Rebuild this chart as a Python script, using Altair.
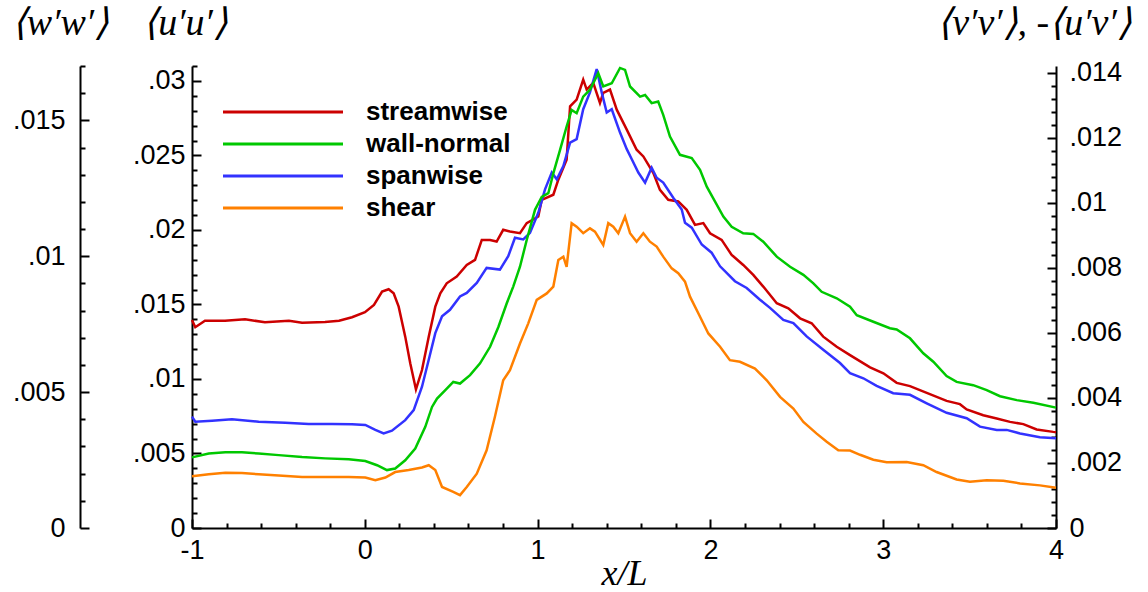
import altair as alt
import pandas as pd

# Reynolds-stress components along the wall, x/L vs. value
STREAMWISE = [  # <u'u'>
    (-1.000, 0.01396), (-0.981, 0.01347), (-0.925, 0.01391), (-0.809, 0.01391),
    (-0.693, 0.01401), (-0.578, 0.01380), (-0.439, 0.01391), (-0.363, 0.01378),
    (-0.230, 0.01382), (-0.149, 0.01391), (-0.074, 0.01414), (0.001, 0.01448),
    (0.053, 0.01497), (0.100, 0.01586), (0.138, 0.01602), (0.167, 0.01575),
    (0.196, 0.01485), (0.234, 0.01284), (0.263, 0.01105), (0.296, 0.00930),
    (0.331, 0.01060), (0.370, 0.01284), (0.408, 0.01485), (0.437, 0.01575),
    (0.474, 0.01642), (0.532, 0.01687), (0.590, 0.01765), (0.638, 0.01799),
    (0.677, 0.01933), (0.725, 0.01933), (0.763, 0.01922), (0.801, 0.02001),
    (0.840, 0.01989), (0.898, 0.01978), (0.937, 0.02046), (1.004, 0.02090),
    (1.024, 0.02202), (1.091, 0.02236), (1.120, 0.02337), (1.168, 0.02471),
    (1.188, 0.02829), (1.226, 0.02874), (1.264, 0.03009), (1.284, 0.02942),
    (1.322, 0.02987), (1.361, 0.02852), (1.380, 0.02919), (1.419, 0.02942),
    (1.458, 0.02807), (1.516, 0.02673), (1.573, 0.02538), (1.612, 0.02493),
    (1.670, 0.02382), (1.708, 0.02269), (1.756, 0.02202), (1.814, 0.02191),
    (1.863, 0.02135), (1.911, 0.02034), (1.959, 0.02046), (1.998, 0.01978),
    (2.065, 0.01933), (2.123, 0.01833), (2.190, 0.01765), (2.248, 0.01698),
    (2.306, 0.01620), (2.384, 0.01508), (2.451, 0.01474), (2.519, 0.01407),
    (2.586, 0.01374), (2.653, 0.01284), (2.731, 0.01216), (2.808, 0.01160),
    (2.924, 0.01078), (3.001, 0.01038), (3.078, 0.00974), (3.155, 0.00952),
    (3.252, 0.00907), (3.367, 0.00853), (3.444, 0.00831), (3.483, 0.00796),
    (3.579, 0.00757), (3.657, 0.00735), (3.734, 0.00712), (3.811, 0.00697),
    (3.888, 0.00661), (3.984, 0.00645), (4.000, 0.00643),
]

SPANWISE = [  # <w'w'>
    (-1.000, 0.00410), (-0.981, 0.00391), (-0.884, 0.00395), (-0.769, 0.00400),
    (-0.614, 0.00391), (-0.460, 0.00387), (-0.325, 0.00383), (-0.190, 0.00383),
    (-0.074, 0.00382), (0.003, 0.00379), (0.061, 0.00361), (0.109, 0.00348),
    (0.157, 0.00358), (0.234, 0.00397), (0.283, 0.00434), (0.331, 0.00520),
    (0.370, 0.00619), (0.408, 0.00717), (0.447, 0.00779), (0.493, 0.00803),
    (0.551, 0.00852), (0.590, 0.00865), (0.648, 0.00902), (0.705, 0.00957),
    (0.782, 0.00951), (0.830, 0.01000), (0.869, 0.01068), (0.917, 0.01062),
    (0.956, 0.01086), (1.004, 0.01160), (1.043, 0.01246), (1.082, 0.01308),
    (1.111, 0.01283), (1.149, 0.01332), (1.188, 0.01418), (1.226, 0.01431),
    (1.264, 0.01541), (1.303, 0.01603), (1.342, 0.01689), (1.371, 0.01603),
    (1.400, 0.01529), (1.429, 0.01541), (1.477, 0.01455), (1.516, 0.01394),
    (1.545, 0.01357), (1.583, 0.01308), (1.622, 0.01271), (1.660, 0.01326),
    (1.689, 0.01289), (1.727, 0.01271), (1.785, 0.01215), (1.834, 0.01172),
    (1.853, 0.01123), (1.892, 0.01105), (1.950, 0.01043), (2.007, 0.01013),
    (2.056, 0.00963), (2.094, 0.00939), (2.142, 0.00908), (2.210, 0.00883),
    (2.287, 0.00840), (2.345, 0.00810), (2.422, 0.00766), (2.480, 0.00754),
    (2.557, 0.00705), (2.653, 0.00656), (2.750, 0.00607), (2.808, 0.00570),
    (2.885, 0.00551), (2.962, 0.00523), (3.058, 0.00496), (3.155, 0.00490),
    (3.252, 0.00459), (3.367, 0.00424), (3.483, 0.00404), (3.560, 0.00373),
    (3.657, 0.00361), (3.715, 0.00361), (3.792, 0.00348), (3.907, 0.00334),
    (4.000, 0.00330),
]

WALL_NORMAL = [  # <v'v'>
    (-1.000, 0.00217), (-0.903, 0.00229), (-0.807, 0.00233), (-0.711, 0.00233),
    (-0.614, 0.00229), (-0.498, 0.00224), (-0.363, 0.00218), (-0.229, 0.00214),
    (-0.093, 0.00211), (0.003, 0.00206), (0.071, 0.00193), (0.128, 0.00178),
    (0.176, 0.00183), (0.234, 0.00208), (0.292, 0.00244), (0.350, 0.00311),
    (0.389, 0.00372), (0.418, 0.00398), (0.466, 0.00424), (0.512, 0.00449),
    (0.551, 0.00444), (0.609, 0.00470), (0.667, 0.00506), (0.725, 0.00557),
    (0.773, 0.00618), (0.821, 0.00690), (0.859, 0.00742), (0.898, 0.00803),
    (0.937, 0.00885), (0.985, 0.00978), (1.024, 0.01018), (1.062, 0.01029),
    (1.091, 0.01090), (1.130, 0.01162), (1.168, 0.01234), (1.197, 0.01285),
    (1.226, 0.01275), (1.264, 0.01326), (1.303, 0.01347), (1.351, 0.01398),
    (1.380, 0.01357), (1.429, 0.01367), (1.477, 0.01414), (1.506, 0.01408),
    (1.535, 0.01357), (1.593, 0.01326), (1.622, 0.01331), (1.660, 0.01306),
    (1.698, 0.01311), (1.727, 0.01270), (1.766, 0.01203), (1.824, 0.01147),
    (1.892, 0.01137), (1.940, 0.01101), (1.979, 0.01049), (2.027, 0.01003),
    (2.075, 0.00957), (2.123, 0.00926), (2.190, 0.00906), (2.248, 0.00904),
    (2.306, 0.00880), (2.384, 0.00834), (2.461, 0.00803), (2.538, 0.00778),
    (2.596, 0.00752), (2.644, 0.00726), (2.731, 0.00706), (2.808, 0.00680),
    (2.847, 0.00654), (2.943, 0.00634), (3.039, 0.00614), (3.078, 0.00610),
    (3.155, 0.00583), (3.232, 0.00537), (3.290, 0.00511), (3.367, 0.00467),
    (3.425, 0.00449), (3.521, 0.00439), (3.599, 0.00424), (3.676, 0.00405),
    (3.773, 0.00393), (3.869, 0.00385), (4.000, 0.00370),
]

SHEAR = [  # -<u'v'>
    (-1.000, 0.00159), (-0.903, 0.00165), (-0.807, 0.00170), (-0.711, 0.00169),
    (-0.614, 0.00165), (-0.498, 0.00161), (-0.363, 0.00157), (-0.229, 0.00157),
    (-0.093, 0.00157), (0.003, 0.00155), (0.061, 0.00147), (0.119, 0.00155),
    (0.176, 0.00172), (0.254, 0.00178), (0.331, 0.00186), (0.370, 0.00193),
    (0.408, 0.00178), (0.447, 0.00126), (0.512, 0.00111), (0.551, 0.00101),
    (0.590, 0.00126), (0.648, 0.00167), (0.705, 0.00239), (0.753, 0.00342),
    (0.801, 0.00454), (0.840, 0.00485), (0.898, 0.00567), (0.946, 0.00629),
    (0.995, 0.00701), (1.053, 0.00721), (1.091, 0.00742), (1.120, 0.00824),
    (1.149, 0.00834), (1.168, 0.00803), (1.197, 0.00937), (1.226, 0.00926),
    (1.264, 0.00906), (1.303, 0.00921), (1.332, 0.00911), (1.380, 0.00870),
    (1.409, 0.00937), (1.438, 0.00926), (1.467, 0.00906), (1.506, 0.00957),
    (1.535, 0.00906), (1.573, 0.00880), (1.612, 0.00906), (1.650, 0.00880),
    (1.689, 0.00865), (1.727, 0.00834), (1.776, 0.00798), (1.814, 0.00783),
    (1.853, 0.00757), (1.882, 0.00711), (1.930, 0.00660), (1.988, 0.00598),
    (2.056, 0.00557), (2.113, 0.00516), (2.171, 0.00511), (2.258, 0.00490),
    (2.326, 0.00454), (2.403, 0.00403), (2.480, 0.00367), (2.538, 0.00326),
    (2.615, 0.00290), (2.673, 0.00265), (2.740, 0.00239), (2.808, 0.00238),
    (2.866, 0.00225), (2.943, 0.00210), (3.020, 0.00202), (3.136, 0.00203),
    (3.232, 0.00193), (3.309, 0.00172), (3.425, 0.00149), (3.502, 0.00142),
    (3.599, 0.00147), (3.695, 0.00145), (3.792, 0.00137), (3.907, 0.00131),
    (4.000, 0.00124),
]

NAMES = ["streamwise", "wall-normal", "spanwise", "shear"]
COLORS = ["#cc0000", "#00c800", "#3232ff", "#ff8000"]

# axis ranges and tick positions
X_DOMAIN = [-1, 4]
UU_DOMAIN = [0, 0.031]
WW_DOMAIN = [0, 0.017]
VV_DOMAIN = [0, 0.0142]

X_TICKS = [-1, 0, 1, 2, 3, 4]
X_MINOR = [round(-1 + 0.2 * i, 1) for i in range(26) if i % 5]
UU_TICKS = [0, 0.005, 0.01, 0.015, 0.02, 0.025, 0.03]
UU_MINOR = [round(0.001 * i, 3) for i in range(32) if i % 5]
WW_TICKS = [0, 0.005, 0.01, 0.015]
WW_MINOR = [round(0.001 * i, 3) for i in range(18) if i % 5]
VV_TICKS = [0, 0.002, 0.004, 0.006, 0.008, 0.01, 0.012, 0.014]
VV_MINOR = [round(0.0004 * i, 4) for i in range(36) if i % 5]


def frame(pairs, name):
    return pd.DataFrame({"x": [p[0] for p in pairs], "val": [p[1] for p in pairs], "series": name})


SANS = "Liberation Sans"
SERIF = "Liberation Serif"
LABEL_DEC = "datum.value == 0 ? '0' : replace(format(datum.value, '.4~f'), '0.', '.')"
MAJOR = alt.ExprRef(expr="-9")
MINOR = alt.ExprRef(expr="-5")

title_style = dict(
    titleAngle=0, titleAlign="center", titleBaseline="alphabetic", titleFont=SERIF,
    titleFontStyle="italic", titleFontWeight="normal", titleColor="black",
)
axis_style = dict(
    grid=False, domainColor="black", domainWidth=2, tickColor="black", tickWidth=2,
    labelFont=SANS, labelFontSize=27, labelColor="black",
)


def yscale(domain):
    return alt.Scale(domain=domain, nice=False, zero=False)


xscale = alt.Scale(domain=X_DOMAIN, nice=False, zero=False)

color = alt.Color(
    "series:N",
    scale=alt.Scale(domain=NAMES, range=COLORS),
    legend=alt.Legend(
        title=None, orient="none", legendX=28, legendY=33, padding=0,
        symbolType="M-1,0H11", symbolSize=400, symbolStrokeWidth=3,
        labelFont=SANS, labelFontWeight="bold", labelFontSize=26, labelColor="black",
        labelOffset=120, rowPadding=6, labelLimit=400,
    ),
)

x_axis = alt.Axis(
    orient="bottom", values=X_TICKS, labelExpr="'' + datum.value", tickSize=MAJOR,
    labelPadding=18, labelFlush=False, title="x/L", titleX=432, titleY=56,
    titleFontSize=36, **title_style, **axis_style,
)

TITLE_SIZE = 38
TITLE_Y = -32

red = alt.Chart(frame(STREAMWISE, "streamwise")).mark_line(strokeWidth=2.5).encode(
    x=alt.X("x:Q", scale=xscale, axis=x_axis),
    y=alt.Y("val:Q", scale=yscale(UU_DOMAIN), axis=alt.Axis(
        orient="left", values=UU_TICKS, labelExpr=LABEL_DEC, tickSize=MAJOR, labelPadding=16,
        labelBaseline="middle", title="⟨u′u′⟩", titleX=-7, titleY=TITLE_Y,
        titleFontSize=TITLE_SIZE, **title_style, **axis_style)),
    color=color,
)

blue = alt.Chart(frame(SPANWISE, "spanwise")).mark_line(strokeWidth=2.5).encode(
    x=alt.X("x:Q", scale=xscale, axis=None),
    y=alt.Y("val:Q", scale=yscale(WW_DOMAIN), axis=alt.Axis(
        orient="left", offset=112, values=WW_TICKS, labelExpr=LABEL_DEC, tickSize=MAJOR,
        labelPadding=24, labelBaseline="middle", title="⟨w′w′⟩", titleX=-20, titleY=TITLE_Y,
        titleFontSize=TITLE_SIZE, **title_style, **axis_style)),
    color=color,
)

vv = pd.concat([frame(WALL_NORMAL, "wall-normal"), frame(SHEAR, "shear")], ignore_index=True)
green_orange = alt.Chart(vv).mark_line(strokeWidth=2.5).encode(
    x=alt.X("x:Q", scale=xscale, axis=None),
    y=alt.Y("val:Q", scale=yscale(VV_DOMAIN), axis=alt.Axis(
        orient="right", values=VV_TICKS, labelExpr=LABEL_DEC, tickSize=MAJOR, labelPadding=22,
        labelBaseline="middle", title="⟨v′v′⟩, -⟨u′v′⟩", titleX=-22, titleY=TITLE_Y,
        titleFontSize=TITLE_SIZE, **title_style, **axis_style)),
    color=color,
)


def minor_y(values, domain, orient, offset=0):
    axis = alt.Axis(orient=orient, offset=offset, values=values, labels=False, domain=False,
                    tickSize=MINOR, title=None, **axis_style)
    return alt.Chart(pd.DataFrame({"t": values})).mark_point(opacity=0).encode(
        y=alt.Y("t:Q", scale=yscale(domain), axis=axis), x=alt.value(0))


minor_x = alt.Chart(pd.DataFrame({"t": X_MINOR})).mark_point(opacity=0).encode(
    x=alt.X("t:Q", scale=xscale, axis=alt.Axis(
        orient="bottom", values=X_MINOR, labels=False, domain=False, tickSize=MINOR,
        title=None, **axis_style)),
    y=alt.value(0),
)

chart = alt.layer(
    red, blue, green_orange,
    minor_y(UU_MINOR, UU_DOMAIN, "left"),
    minor_y(WW_MINOR, WW_DOMAIN, "left", 112),
    minor_y(VV_MINOR, VV_DOMAIN, "right"),
    minor_x,
).resolve_scale(x="independent", y="independent").properties(
    width=864, height=462,
    autosize=alt.AutoSizeParams(type="none"),
    padding={"left": 192, "top": 66, "right": 92, "bottom": 64},
    background="white",
).configure_view(stroke=None)

chart.save("out.html", embed_options={"renderer": "svg", "actions": False})
